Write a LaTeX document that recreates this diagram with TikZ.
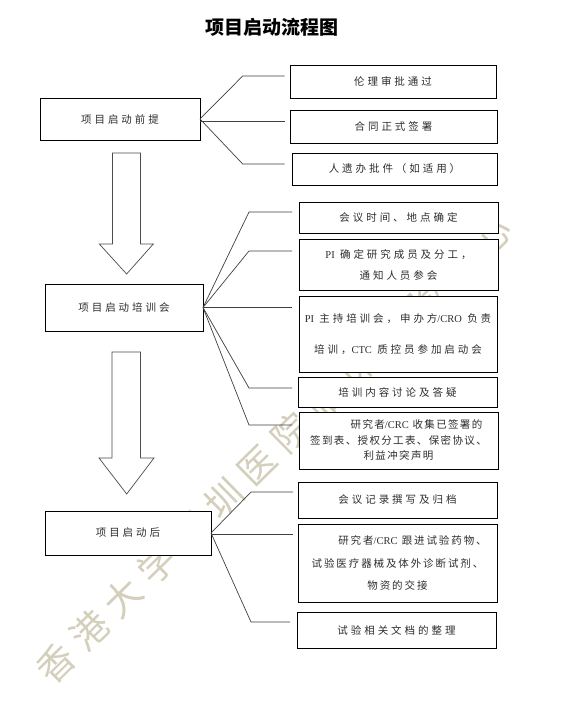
\documentclass[tikz,border=0pt]{standalone}
\usepackage{fontspec}
\newfontfamily\cjk[LetterSpace=28]{Noto Sans CJK SC}
\newfontfamily\cjkm[LetterSpace=18]{Noto Sans CJK SC}
\newfontfamily\cjkn[LetterSpace=13]{Noto Sans CJK SC}
\newfontfamily\cjkt{Noto Sans CJK SC}
\newfontfamily\wmfont[LetterSpace=27]{Noto Sans CJK SC}
\newfontfamily\lat{Liberation Serif}
\definecolor{wmcol}{RGB}{212,207,187}
\definecolor{txt}{RGB}{45,45,45}
\begin{document}
\begin{tikzpicture}[x=1pt,y=-1pt,
  box/.style={draw=black,line width=0.8pt,fill=white,inner sep=0pt,outer sep=0pt,
    align=center,text=txt,font=\cjk\fontsize{10.5}{13}\selectfont},
  conn/.style={draw=black!75,line width=0.7pt},
  blockarrow/.style={draw=black!70,line width=0.7pt,fill=white,line join=miter}]
\fill[white] (0,0) rectangle (572,709);
\useasboundingbox (0,0) rectangle (572,709);
% watermark
\node[text=wmcol,rotate=44.5,inner sep=0pt,font=\wmfont\fontsize{37}{37}\selectfont] (wm) at (274,449) {香港大学深圳医院临床试验中心};
% title
\node[font=\cjkt\bfseries\fontsize{19}{19}\selectfont] (title) at (272,27) {项目启动流程图};
% block arrows
\draw[blockarrow] (112.4,153) -- (140.5,153) -- (140.5,244) -- (153.3,244) -- (126.6,274) -- (99.3,244) -- (112.4,244) -- cycle;
\draw[blockarrow] (112,352) -- (140.5,352) -- (140.5,458) -- (154,458) -- (126.7,494) -- (99,458) -- (112,458) -- cycle;
% left boxes
\node[box,minimum width=160,minimum height=42] (a) at (120,119) {\raisebox{-3pt}{项目启动前提}};
\node[box,minimum width=158,minimum height=47] (b) at (124,307.5) {项目启动培训会};
\node[box,minimum width=166,minimum height=44] (c) at (128,533) {\raisebox{-2pt}{项目启动后}};
% right boxes, group 1
\node[box,minimum width=206,minimum height=33] (r1) at (393,81.5) {伦理审批通过};
\node[box,minimum width=207,minimum height=33] (r2) at (393.5,126.5) {合同正式签署};
\node[box,minimum width=205,minimum height=32] (r3) at (394.5,169) {人遗办批件（如适用）};
% group 2
\node[box,minimum width=199,minimum height=31] (m1) at (398.5,217.5) {会议时间、地点确定};
\node[box,minimum width=199,minimum height=51] (m2) at (398.5,264.5) {{\lat PI} 确定研究成员及分工，\\[8pt]通知人员参会};
\node[box,minimum width=198,minimum height=76] (m3) at (398,334) {{\lat PI} 主持培训会，申办方{\lat /CRO} 负责\\[18pt]培训，{\lat CTC} 质控员参加启动会};
\node[box,minimum width=199,minimum height=30] (m4) at (397.5,392) {培训内容讨论及答疑};
\node[box,minimum width=199,minimum height=57,font=\cjkn\fontsize{10.5}{13}\selectfont] (m5) at (398.5,440.5) {\hspace*{36pt}研究者{\lat /CRC} 收集已签署的\\[2.5pt]签到表、授权分工表、保密协议、\\[2.5pt]利益冲突声明};
% group 3
\node[box,minimum width=199,minimum height=36] (l1) at (397.5,500) {会议记录撰写及归档};
\node[box,minimum width=199,minimum height=78,font=\cjkm\fontsize{10.5}{13}\selectfont] (l2) at (397.5,563) {\hspace*{30pt}研究者{\lat /CRC} 跟进试验药物、\\[9.5pt]试验医疗器械及体外诊断试剂、\\[9.5pt]物资的交接};
\node[box,minimum width=199,minimum height=36] (l3) at (396.5,630) {试验相关文档的整理};
% connector ends
\coordinate (a1) at (284.7,76);
\coordinate (a2) at (284.7,121);
\coordinate (a3) at (284.7,164);
\coordinate (b1) at (292,212);
\coordinate (b2) at (292,251);
\coordinate (b3) at (292,307.5);
\coordinate (b4) at (292,388);
\coordinate (b5) at (292,425);
\coordinate (c1) at (293,492);
\coordinate (c2) at (293,534);
\coordinate (c3) at (290,622);
% connectors
\draw[conn] (a.east) -- ([xshift=-42pt]a1) -- (a1);
\draw[conn] (a.east |- a2) -- (a2);
\draw[conn] (a.east) -- ([xshift=-42pt]a3) -- (a3);
\draw[conn] (b.east) -- ([xshift=-43pt]b1) -- (b1);
\draw[conn] (b.east) -- ([xshift=-43pt]b2) -- (b2);
\draw[conn] (b.east |- b3) -- (b3);
\draw[conn] (b.east) -- ([xshift=-43pt]b4) -- (b4);
\draw[conn] (b.east) -- ([xshift=-43pt]b5) -- (b5);
\draw[conn] (c.east) -- ([xshift=-42pt]c1) -- (c1);
\draw[conn] (c.east |- c2) -- (c2);
\draw[conn] (c.east) -- ([xshift=-39pt]c3) -- (c3);
\end{tikzpicture}
\end{document}
